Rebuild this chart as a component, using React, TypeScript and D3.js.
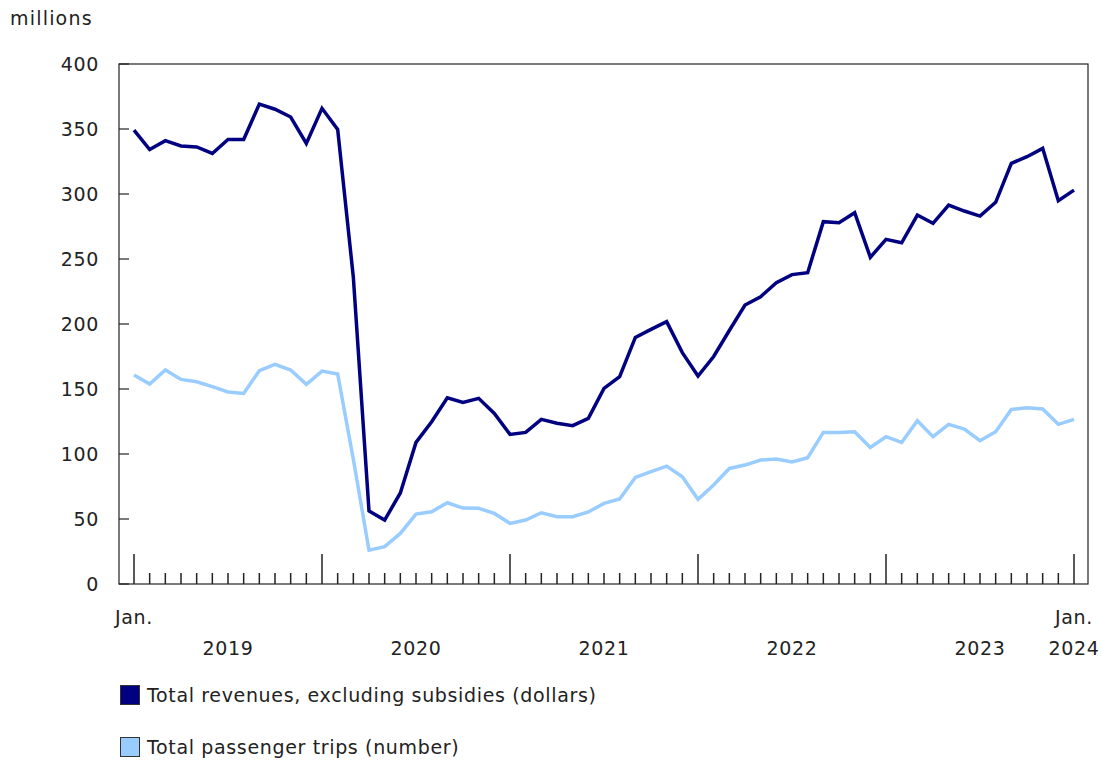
import React from "react";
import * as d3 from "d3";

const months: Date[] = d3.timeMonth.range(new Date(2019, 0, 1), new Date(2024, 1, 1));

const revenues: number[] = [
  349.2, 334.2, 341, 336.9, 336.2, 331.2, 342, 342, 369.2, 365.2, 359.2, 338.9,
  365.9, 349.7, 236, 56.2, 49.2, 70, 108.9, 124.8, 143.2, 139.7, 142.8, 131.2,
  115.1, 116.6, 126.6, 123.6, 121.8, 127.4, 150.5, 159.5, 189.7, 195.9, 201.8, 178,
  160, 175, 195, 214.6, 221, 231.8, 238, 239.5, 278.7, 277.9, 285.6, 251.3,
  265.1, 262.5, 283.8, 277.4, 291.5, 286.9, 283, 293.6, 323.6, 328.7, 335.1, 294.8,
  303,
];

const passengers: number[] = [
  160.7, 153.8, 164.6, 157.4, 155.6, 151.8, 147.7, 146.6, 164.1, 168.9, 164.6, 153.6,
  163.8, 161.5, 96, 26, 28.7, 38.9, 53.8, 55.6, 62.5, 58.4, 58.2, 54.3,
  46.6, 49.2, 54.8, 51.8, 51.8, 55.4, 62, 65.4, 82, 86.4, 90.7, 82.5,
  65.1, 76.1, 88.9, 91.5, 95.4, 96.1, 93.8, 97.1, 116.6, 116.6, 117.1, 105.1,
  113.3, 108.9, 125.6, 113.3, 122.8, 119.2, 110.2, 117.1, 134.3, 135.6, 134.6, 122.8,
  126.6,
];

const yTicks: number[] = [0, 50, 100, 150, 200, 250, 300, 350, 400];
const years: number[] = [2019, 2020, 2021, 2022, 2023];

const seriesNames = [
  "Total revenues, excluding subsidies (dollars)",
  "Total passenger trips (number)",
];
const seriesColors = ["#000080", "#99ccff"];

const FONT = "'DejaVu Sans', Verdana, sans-serif";
const FS = 19;
const LS = 0.65;

export default function App() {
  const W = 1102;
  const H = 760;
  const left = 119;
  const right = 1088;
  const top = 64;
  const bottom = 584;

  const x = d3.scaleLinear().domain([0, months.length - 1]).range([134, 1074]);
  const y = d3.scaleLinear().domain([0, 400]).range([bottom, top]);

  const line = d3
    .line<number>()
    .x((_, i) => x(i))
    .y((d) => y(d));

  const series = [revenues, passengers];
  const txt = { fontSize: FS, letterSpacing: LS, fill: "#222" } as const;

  return (
    <svg
      width={W}
      height={H}
      style={{ position: "absolute", left: 0, top: 0, background: "#fff" }}
      fontFamily={FONT}
    >
      <text x={10} y={25} {...txt} letterSpacing={1.2}>
        millions
      </text>

      {/* frame */}
      <rect x={left} y={top} width={right - left} height={bottom - top} fill="none" stroke="#222" strokeWidth={1.2} />

      {/* y ticks */}
      {yTicks.map((t) => (
        <g key={t}>
          <line x1={left} x2={left + 10} y1={y(t)} y2={y(t)} stroke="#222" strokeWidth={1.2} />
          <text x={99} y={y(t) + 7} textAnchor="end" {...txt}>
            {t}
          </text>
        </g>
      ))}

      {/* x ticks */}
      {months.map((m, i) => {
        const major = m.getMonth() === 0;
        return (
          <line
            key={i}
            x1={x(i)}
            x2={x(i)}
            y1={bottom}
            y2={major ? bottom - 30 : bottom - 11}
            stroke="#222"
            strokeWidth={1.5}
          />
        );
      })}

      {/* x labels */}
      <text x={x(0)} y={624} textAnchor="middle" {...txt}>
        Jan.
      </text>
      <text x={x(months.length - 1)} y={624} textAnchor="middle" {...txt}>
        Jan.
      </text>
      {years.map((yr, k) => (
        <text key={yr} x={(x(k * 12) + x((k + 1) * 12)) / 2} y={655} textAnchor="middle" {...txt}>
          {yr}
        </text>
      ))}
      <text x={x(months.length - 1)} y={655} textAnchor="middle" {...txt}>
        2024
      </text>

      {/* lines */}
      {[1, 0].map((s) => (
        <path
          key={s}
          d={line(series[s]) || ""}
          fill="none"
          stroke={seriesColors[s]}
          strokeWidth={3.5}
          strokeLinejoin="miter"
        />
      ))}

      {/* legend */}
      {seriesNames.map((name, k) => (
        <g key={name} transform={`translate(0, ${k * 52})`}>
          <rect x={120.5} y={685.5} width={19} height={19} fill={seriesColors[k]} stroke="#333" strokeWidth={1} />
          <text x={147} y={702} {...txt}>
            {name}
          </text>
        </g>
      ))}
    </svg>
  );
}
